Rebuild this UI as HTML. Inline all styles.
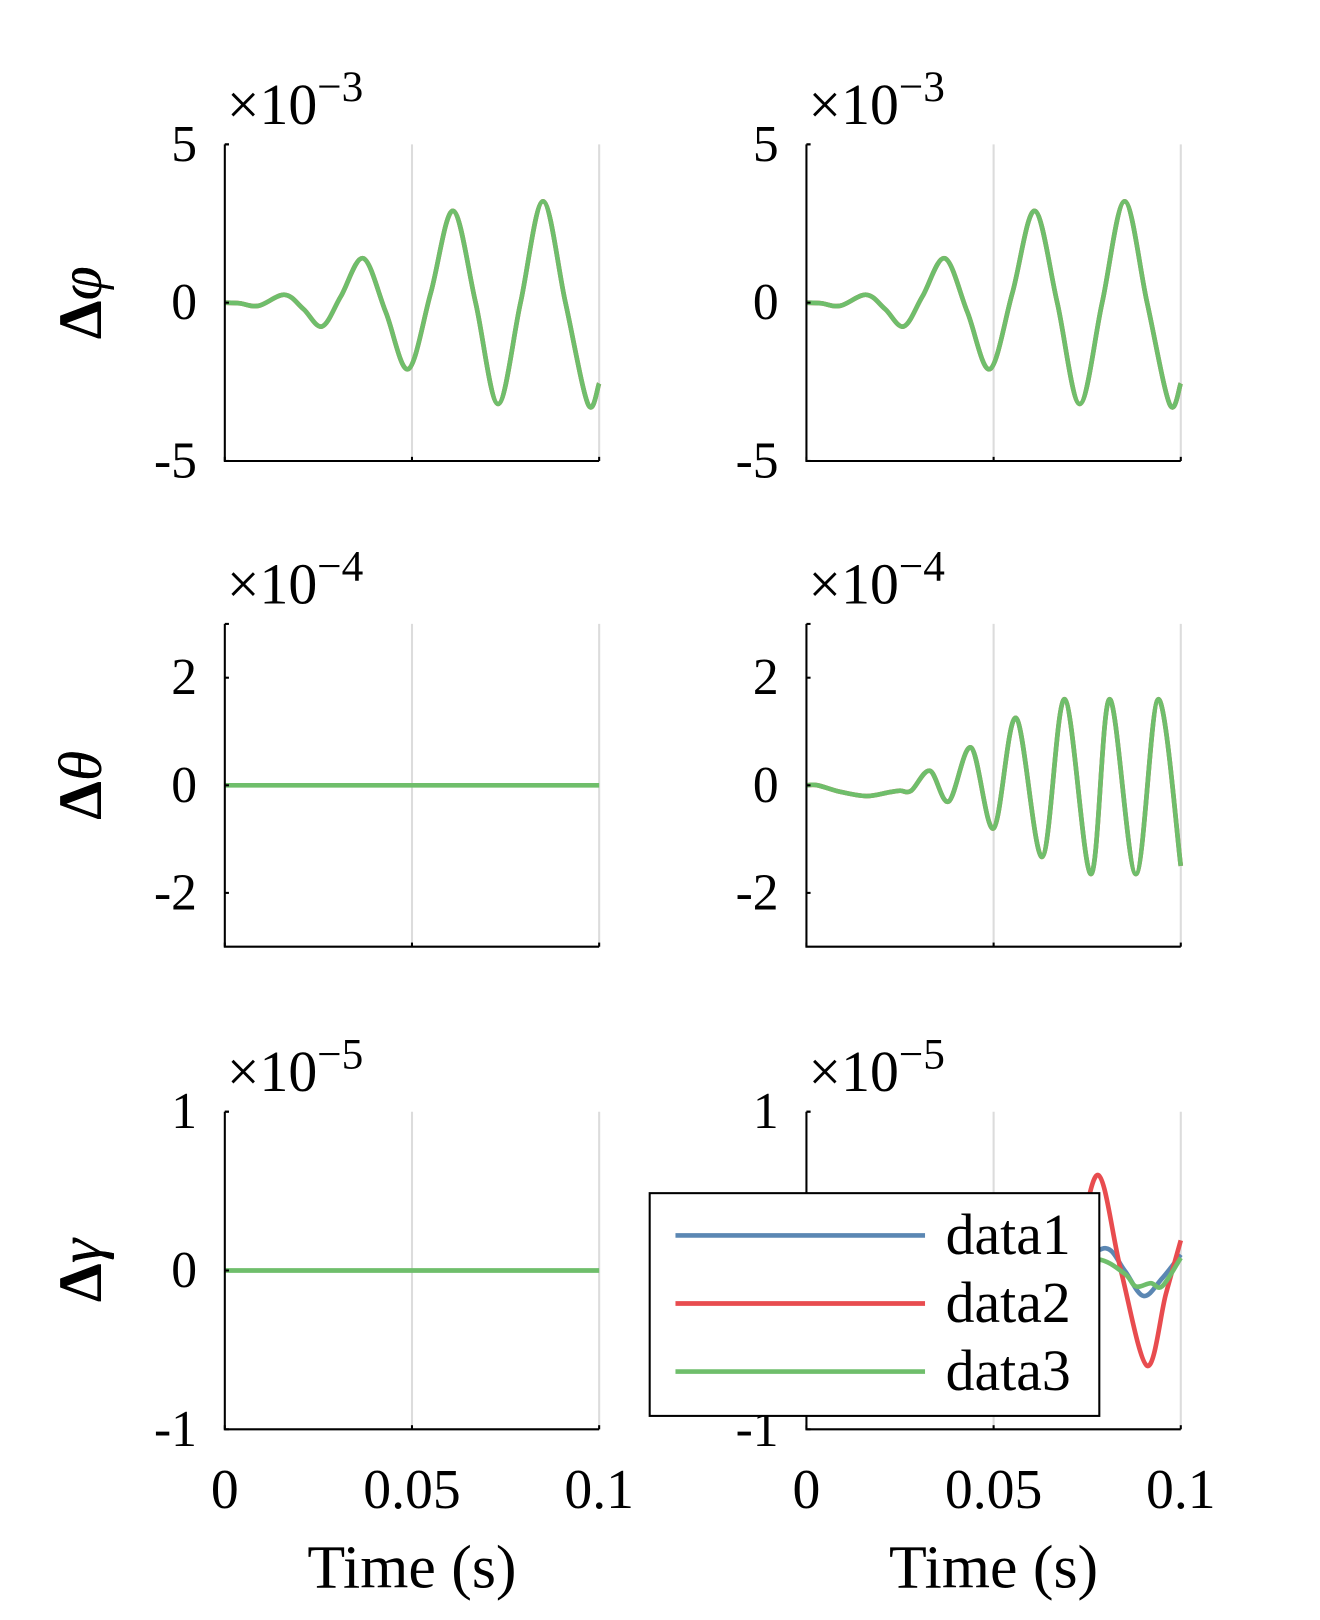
<!DOCTYPE html>
<html><head><meta charset="utf-8"><style>
html,body{margin:0;padding:0;background:#fff;}
svg{display:block;}
text{font-family:"Liberation Serif",serif;fill:#000;}
</style></head><body>
<svg id="fig" width="1320" height="1620" viewBox="0 0 1320 1620" xmlns="http://www.w3.org/2000/svg">
<g id="root" transform="scale(1.03125)"></g>
</svg>
<script>
// x-axis data
const timeTicks = [0, 0.05, 0.1];
const timeTickLabels = ["0", "0.05", "0.1"];
// row 1: delta phi (x1e-3)
const phiT = [0,0.004,0.009,0.016,0.021,0.026,0.031,0.037,0.043,0.049,0.055,0.061,0.067,0.073,0.079,0.085,0.091,0.097,0.1];
const phiV = [0,-0.02,-0.1,0.25,-0.2,-0.75,0.2,1.4,-0.3,-2.1,0.3,2.9,0,-3.2,0,3.2,0,-3.2,-2.55];
// row 2 right: delta theta (x1e-4)
const thetaT = [0,0.003,0.009,0.016,0.022,0.025,0.028,0.033,0.038,0.044,0.05,0.056,0.063,0.069,0.076,0.081,0.088,0.094,0.1];
const thetaV = [0,0,-0.12,-0.2,-0.13,-0.1,-0.1,0.27,-0.3,0.7,-0.8,1.25,-1.33,1.6,-1.65,1.6,-1.65,1.6,-1.5];
// row 3 right: delta gamma (x1e-5)
const gamT1 = [0,0.065,0.072,0.08,0.085,0.09,0.095,0.1];
const gamV1 = [0,0,0.03,0.14,0,-0.16,-0.05,0.1];
const gamT2 = [0,0.065,0.072,0.078,0.084,0.091,0.096,0.1];
const gamV2 = [0,0,0.15,0.6,0,-0.6,-0.15,0.19];
const gamT3 = [0,0.07,0.078,0.085,0.088,0.092,0.095,0.1];
const gamV3 = [0,0.01,0.07,-0.02,-0.1,-0.08,-0.1,0.08];
const flatT = [0,0.1];
const flatV = [0,0];
const colors = {data1:"#5b87b3", data2:"#e84c4f", data3:"#6fbe6b"};

const NS="http://www.w3.org/2000/svg";
const root=document.getElementById('root');
function el(tag,attrs,parent){const e=document.createElementNS(NS,tag);for(const k in attrs)e.setAttribute(k,attrs[k]);(parent||root).appendChild(e);return e;}

const panels=[
 {name:"phi-left",x0:218,y0:140,y1:447,ymin:-5,ymax:5,yt:[-5,0,5],exp:"−3",lab:"φ",series:[[phiT,phiV,"data2"],[phiT,phiV,"data3"]]},
 {name:"phi-right",x0:782,y0:140,y1:447,ymin:-5,ymax:5,yt:[-5,0,5],exp:"−3",lab:"φ",series:[[phiT,phiV,"data2"],[phiT,phiV,"data3"]]},
 {name:"theta-left",x0:218,y0:605,y1:918,ymin:-3,ymax:3,yt:[-2,0,2],exp:"−4",lab:"θ",series:[[flatT,flatV,"data3"]]},
 {name:"theta-right",x0:782,y0:605,y1:918,ymin:-3,ymax:3,yt:[-2,0,2],exp:"−4",lab:"θ",series:[[thetaT,thetaV,"data2"],[thetaT,thetaV,"data3"]]},
 {name:"gamma-left",x0:218,y0:1078,y1:1386,ymin:-1,ymax:1,yt:[-1,0,1],exp:"−5",lab:"γ",series:[[flatT,flatV,"data3"]],xl:true},
 {name:"gamma-right",x0:782,y0:1078,y1:1386,ymin:-1,ymax:1,yt:[-1,0,1],exp:"−5",lab:"γ",series:[[gamT1,gamV1,"data1"],[gamT2,gamV2,"data2"],[gamT3,gamV3,"data3"]],xl:true},
];
const W=363;
function smoothPath(pts){
  let d=`M${pts[0][0]},${pts[0][1]}`;
  for(let i=0;i<pts.length-1;i++){
    const p0=pts[Math.max(i-1,0)],p1=pts[i],p2=pts[i+1],p3=pts[Math.min(i+2,pts.length-1)];
    const c1=[p1[0]+(p2[0]-p0[0])/6,p1[1]+(p2[1]-p0[1])/6];
    const c2=[p2[0]-(p3[0]-p1[0])/6,p2[1]-(p3[1]-p1[1])/6];
    d+=` C${c1[0]},${c1[1]} ${c2[0]},${c2[1]} ${p2[0]},${p2[1]}`;
  }
  return d;
}
panels.forEach(p=>{
  const g=el('g',{});
  
  
  const xs=t=>p.x0+t/0.1*W;
  const ys=v=>p.y1-(v-p.ymin)/(p.ymax-p.ymin)*(p.y1-p.y0);
  timeTicks.slice(1).forEach(t=>{const l=el('line',{x1:xs(t),x2:xs(t),y1:p.y0,y2:p.y1,stroke:"#dcdcdc","stroke-width":2},g);
    });
  p.series.forEach(s=>{
    const pts=s[0].map((t,i)=>[xs(t),ys(s[1][i])]);
    const path=el('path',{d:smoothPath(pts),fill:"none",stroke:colors[s[2]],"stroke-width":4.5,"stroke-linejoin":"round"},g);
    
    
  });
  const ax=el('path',{d:`M${p.x0},${p.y0} V${p.y1} H${p.x0+W}`,fill:"none",stroke:"#000","stroke-width":2},g);
  
  p.yt.forEach(v=>{
    el('line',{x1:p.x0,x2:p.x0+4,y1:ys(v),y2:ys(v),stroke:"#000","stroke-width":2},g);
    const tx=el('text',{x:p.x0-27,y:ys(v),"text-anchor":"end","dominant-baseline":"central","font-size":50},g);
    tx.textContent=String(v);
    
  });
  el('line',{x1:p.x0,x2:p.x0+4,y1:p.y0,y2:p.y0,stroke:"#000","stroke-width":2},g);
  timeTicks.forEach(t=>el('line',{x1:xs(t),x2:xs(t),y1:p.y1,y2:p.y1-4,stroke:"#000","stroke-width":2},g));
  const ex=el('text',{x:p.x0+2,y:p.y0-20,"font-size":56},g);
  ex.innerHTML=`×10<tspan dy="-22" font-size="42">${p.exp}</tspan>`;
  
  const yl=el('text',{x:0,y:0,transform:`translate(98,${(p.y0+p.y1)/2}) rotate(-90)`,"text-anchor":"middle","font-size":60},g);
  yl.innerHTML=`<tspan font-weight="bold">Δ</tspan><tspan font-style="italic">${p.lab}</tspan>`;
  
  if(p.xl){
    timeTicks.forEach((t,i)=>{const tx=el('text',{x:xs(t),y:1445,"text-anchor":"middle","dominant-baseline":"central","font-size":54},g);
      tx.textContent=timeTickLabels[i];});
    const xt=el('text',{x:xs(0.05),y:1520,"text-anchor":"middle","dominant-baseline":"central","font-size":60},g);
    xt.textContent="Time (s)";
  }
});
const lg=el('g',{});


el('rect',{x:630,y:1157,width:436,height:216,fill:"#fff",stroke:"#000","stroke-width":2},lg);
["data1","data2","data3"].forEach((k,i)=>{
  const y=1198+i*66;
  const e=el('g',{},lg);
  
  
  el('line',{x1:655,x2:897,y1:y,y2:y,stroke:colors[k],"stroke-width":4.5},e);
  const t=el('text',{x:917,y:y,"dominant-baseline":"central","font-size":56},e);
  t.textContent=k;
});
</script>
</body></html>
